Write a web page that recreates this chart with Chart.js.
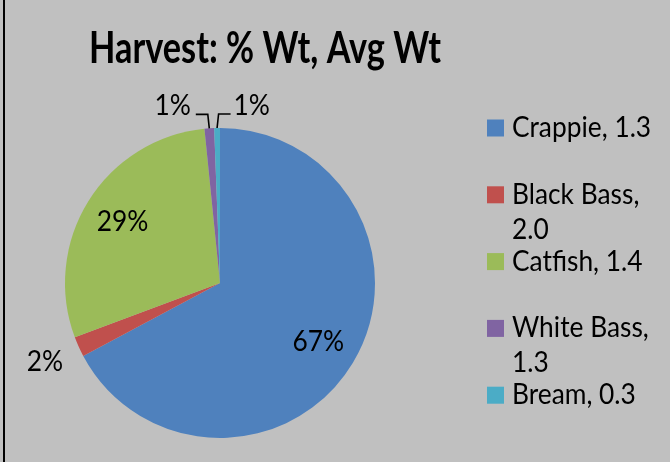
<!DOCTYPE html>
<html lang="en">
<head>
  <meta charset="UTF-8" />
  <title>Harvest: % Wt, Avg Wt</title>
  <script src="https://cdn.jsdelivr.net/npm/chart.js"></script>
  <style>
    body {
      margin: 0;
      background: #c0c0c0;
    }
    #wrap {
      position: relative;
      width: 670px;
      height: 462px;
    }
    /* thin frame line on the left, like the original sheet */
    #wrap::before {
      content: '';
      position: absolute;
      left: 3px;
      top: 0;
      width: 2px;
      height: 100%;
      background: #000;
    }
  </style>
</head>
<body>

  <div id="wrap">
    <canvas id="pieChart" width="670" height="462"></canvas>
  </div>

  <script>
    const chartTitle = 'Harvest: % Wt, Avg Wt';
    const species = ['Crappie', 'Black Bass', 'Catfish', 'White Bass', 'Bream'];
    const avgWeight = ['1.3', '2.0', '1.4', '1.3', '0.3'];
    const pctWeight = [67.2, 2.1, 29.1, 1.0, 0.6];
    const pctLabels = ['67%', '2%', '29%', '1%', '1%'];
    const colors = ['#4f81bd', '#c0504d', '#9bbb59', '#8064a2', '#4bacc6'];

    const FONT = 'Lato, "Open Sans", sans-serif';
    const SQUISH = 0.94; // narrow the text a bit so it reads like Calibri

    function drawText(ctx, text, x, y, align) {
      ctx.save();
      ctx.translate(x, y);
      ctx.scale(SQUISH, 1);
      ctx.textAlign = align;
      ctx.fillText(text, 0, 0);
      ctx.restore();
    }

    function textWidth(ctx, text) {
      return ctx.measureText(text).width * SQUISH;
    }

    // title, % labels with leader lines and the legend on the right
    const decorations = {
      id: 'decorations',
      afterDatasetsDraw(chart) {
        const ctx = chart.ctx;
        ctx.save();
        ctx.fillStyle = '#000';
        ctx.strokeStyle = '#000';

        // title
        ctx.font = 'bold 44px ' + FONT;
        ctx.textBaseline = 'alphabetic';
        const tw = ctx.measureText(chartTitle).width;
        ctx.save();
        ctx.translate(265, 63);
        ctx.scale(Math.min(1, 352 / tw), 1);
        ctx.textAlign = 'center';
        ctx.fillText(chartTitle, 0, 0);
        ctx.restore();

        // percentage labels
        ctx.font = '28px ' + FONT;
        ctx.textBaseline = 'middle';
        ctx.lineWidth = 1.6;
        const meta = chart.getDatasetMeta(0);
        let tinyCount = 0;
        meta.data.forEach((arc, i) => {
          const p = arc.getProps(['x', 'y', 'startAngle', 'endAngle', 'outerRadius'], true);
          const mid = (p.startAngle + p.endAngle) / 2;
          const r = p.outerRadius;
          const cos = Math.cos(mid), sin = Math.sin(mid);
          if (pctWeight[i] >= 10) {
            drawText(ctx, pctLabels[i], p.x + cos * r * 0.74, p.y + sin * r * 0.74, 'center');
          } else if (pctWeight[i] >= 1.5) {
            drawText(ctx, pctLabels[i], p.x + cos * (r + 37), p.y + sin * (r + 37), 'center');
          } else {
            const side = tinyCount === 0 ? -1 : 1;
            tinyCount++;
            const ex = p.x + cos * r, ey = p.y + sin * r;
            const ky = ey - 14;
            const kx = ex + side * 1.5;
            const hx = kx + side * 12;
            ctx.beginPath();
            ctx.moveTo(ex, ey);
            ctx.lineTo(kx, ky);
            ctx.lineTo(hx, ky);
            ctx.stroke();
            drawText(ctx, pctLabels[i], hx + side * (side < 0 ? 5 : 3), ky - 8, side < 0 ? 'right' : 'left');
          }
        });

        // legend
        const boxX = 487, textX = 512, maxW = 152;
        const firstY = 128, step = 66.8, lineH = 35, box = 17;
        species.forEach((name, i) => {
          const full = name + ', ' + avgWeight[i];
          let lines = [full];
          if (textWidth(ctx, full) > maxW) {
            lines = [name + ',', avgWeight[i]];
          }
          const y = firstY + i * step;
          ctx.fillStyle = colors[i];
          ctx.fillRect(boxX, y - box / 2, box, box);
          ctx.fillStyle = '#000';
          lines.forEach((ln, j) => drawText(ctx, ln, textX, y + j * lineH, 'left'));
        });

        ctx.restore();
      }
    };

    new Chart(document.getElementById('pieChart'), {
      type: 'pie',
      data: {
        labels: species,
        datasets: [{
          data: pctWeight,
          backgroundColor: colors,
          borderWidth: 0
        }]
      },
      options: {
        responsive: false,
        animation: false,
        layout: {
          padding: { left: 65, right: 295, top: 128, bottom: 24 }
        },
        plugins: {
          legend: { display: false },
          title: { display: false },
          tooltip: { enabled: false }
        }
      },
      plugins: [decorations]
    });
  </script>
</body>
</html>
